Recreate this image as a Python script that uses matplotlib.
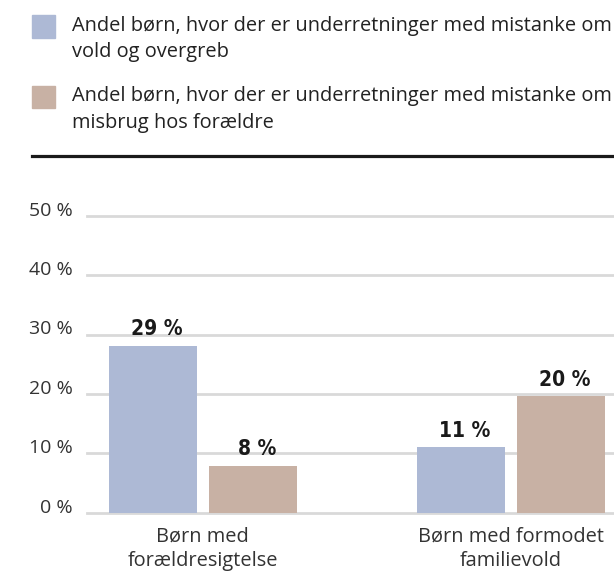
import matplotlib
matplotlib.use('Agg')
import numpy as np
from matplotlib import pyplot as plt
from matplotlib.patches import Rectangle

# data
kategorier = ['Børn med\nforældresigtelse', 'Børn med formodet\nfamilievold']
serie_navne = ['Andel børn, hvor der er underretninger med mistanke om\nvold og overgreb',
               'Andel børn, hvor der er underretninger med mistanke om\nmisbrug hos forældre']
vold = [28.1, 11.0]      # bar heights as drawn
misbrug = [7.9, 19.6]
vold_labels = ['29 %', '11 %']
misbrug_labels = ['8 %', '20 %']
yticks = [0, 10, 20, 30, 40, 50]

farver = ['#adb9d5', '#c8b1a4']
W, H = 614, 574

plt.rcParams['font.family'] = ['Open Sans', 'DejaVu Sans']
fig = plt.figure(figsize=(W / 100, H / 100), dpi=100)

# akse i pixel-koordinater
ax = fig.add_axes([87 / W, 61.3 / H, 1 - 87 / W, (512.7 - 186) / H])
x = np.arange(len(kategorier))
bw = 88 / 308
off = 50 / 308
b1 = ax.bar(x - off, vold, bw, color=farver[0], zorder=2)
b2 = ax.bar(x + off, misbrug, bw, color=farver[1], zorder=2)

for bars, labs in [(b1, vold_labels), (b2, misbrug_labels)]:
    for r, t in zip(bars, labs):
        ax.annotate(t, (r.get_x() + r.get_width() / 2, r.get_height()),
                    xytext=(3, 7.5), textcoords='offset points',
                    ha='center', va='baseline', fontsize=15, fontweight='bold',
                    fontstretch='condensed', family=['DejaVu Sans'], color='#1a1a1a')

ax.set_xlim(-0.3757, 1.335)
ax.set_ylim(0, 55)
ax.set_yticks(yticks)
ax.set_yticklabels([f'{v} %' for v in yticks])
ax.set_xticks(x)
ax.set_xticklabels(kategorier, fontsize=14.4, color='#333333', linespacing=1.3)
ax.yaxis.grid(True, color='#d9d9d9', lw=2, clip_on=False)
ax.set_axisbelow(True)
for s in ax.spines.values():
    s.set_visible(False)
ax.tick_params(axis='both', length=0)
ax.tick_params(axis='y', pad=10, labelsize=14, labelcolor='#333333')
ax.tick_params(axis='x', pad=10)
plt.setp(ax.get_yticklabels(), va='baseline')

# forklaring
for i, (navn, col) in enumerate(zip(serie_navne, farver)):
    top = 15 + i * 71
    fig.add_artist(Rectangle((32 / W, 1 - (top + 22.5) / H), 22.5 / W, 22.5 / H,
                             transform=fig.transFigure, color=col))
    fig.text(72 / W, 1 - (top + 0.5) / H, navn, ha='left', va='top', fontsize=14.4,
             color='#222222', linespacing=1.42)

fig.add_artist(plt.Line2D([32 / W, 1], [1 - 155.5 / H, 1 - 155.5 / H],
                          transform=fig.transFigure, color='#1a1a1a', lw=2.3))

fig.savefig('out.png', dpi=100)
